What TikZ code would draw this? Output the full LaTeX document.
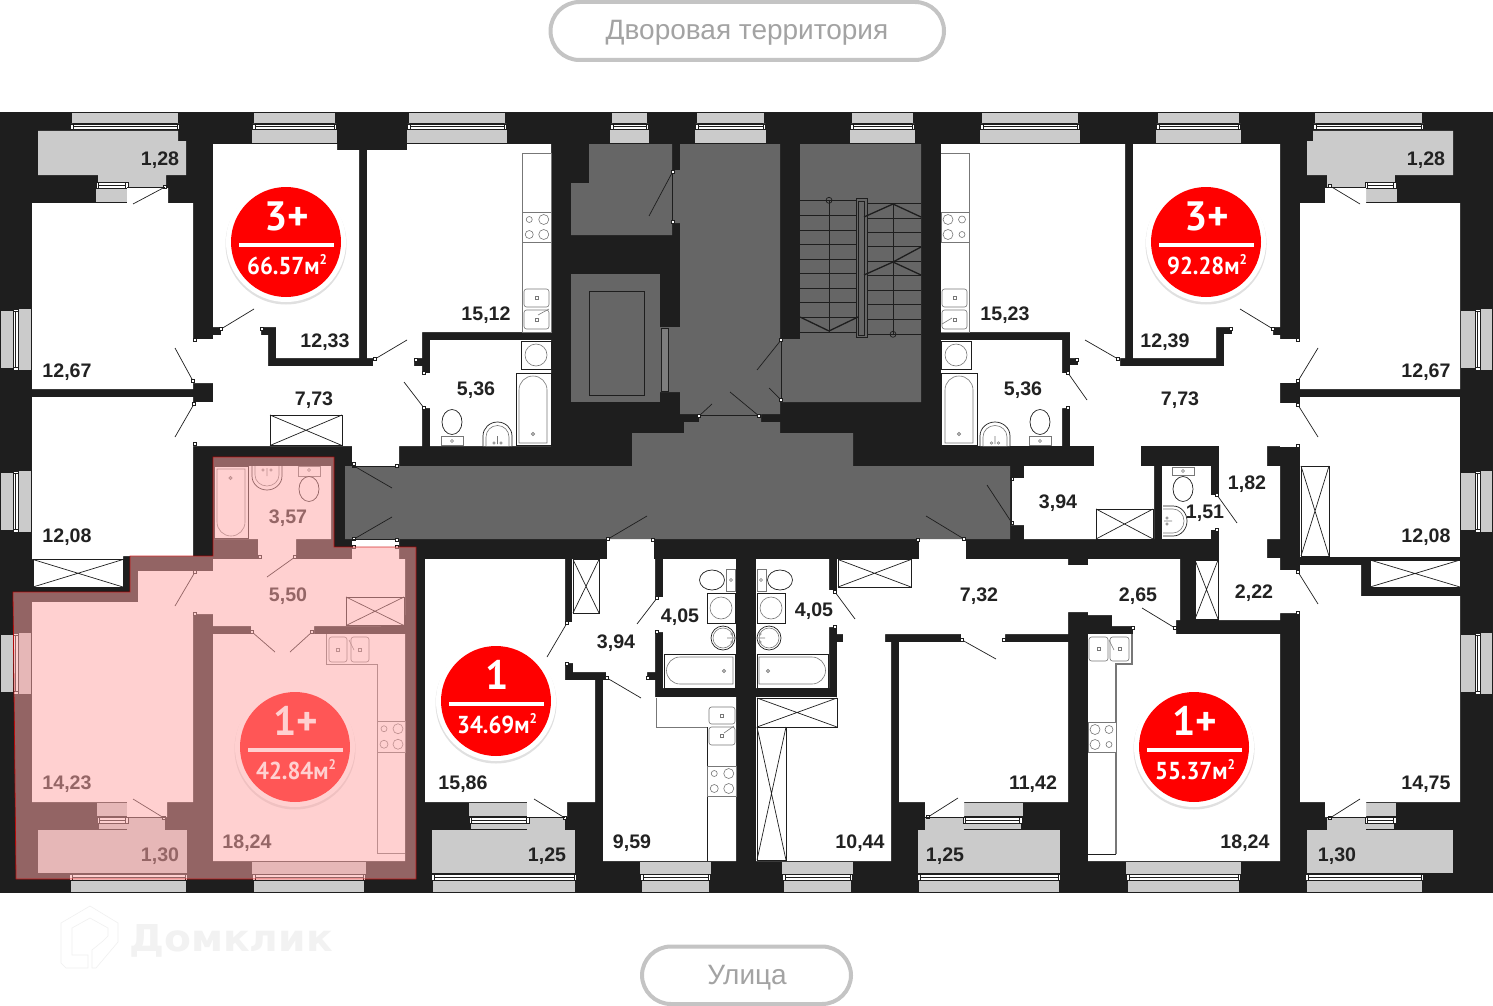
\documentclass[tikz,border=0pt]{standalone}
\usepackage{fontspec}
\setmainfont{Liberation Sans}
\newfontfamily\badgefont{PT Sans}
\newfontfamily\wmfont{DejaVu Sans}
\definecolor{wallc}{HTML}{1E1E1E}
\definecolor{corec}{HTML}{666666}
\definecolor{balc}{HTML}{CBCBCB}
\definecolor{lblc}{HTML}{222222}
\definecolor{fixc}{HTML}{777777}
\definecolor{pillc}{HTML}{C4C4C4}
\definecolor{pilltxt}{HTML}{A3A3A3}
\definecolor{ovc}{RGB}{255,165,165}
\definecolor{redc}{HTML}{FF0000}
\tikzset{
  leaf/.style={draw=wallc,line width=.7pt},
  thinl/.style={draw=wallc,line width=.7pt},
  fixt/.style={draw=fixc,line width=.6pt,fill=white},
  fixd/.style={draw=wallc,line width=.7pt,fill=white},
  room/.style={fill=white},
  core/.style={fill=corec},
  gr/.style={fill=balc},
  area/.style={font=\fontsize{19.6}{20}\selectfont\bfseries,text=lblc,inner sep=0pt,yshift=-1.8pt},
  pillbox/.style={draw=pillc,line width=4pt,fill=white,rounded corners=29pt},
  pilltext/.style={text=pilltxt,font=\fontsize{28}{29}\selectfont,inner sep=0pt,yshift=-2.2pt},
  bigb/.style={text=white,font=\badgefont\bfseries\fontsize{41}{42}\selectfont,inner sep=0pt},
  smallb/.style={text=white,font=\badgefont\bfseries\fontsize{24.5}{25}\selectfont,inner sep=0pt},
}
% top window: outer grey and glazing
\newcommand{\wtop}[2]{%
  \fill[gr] (#1,113) rectangle (#2,123);
  \draw[fill=white,draw=wallc,line width=.7pt] (#1,124) rectangle (#2,129.5);
  \draw[wallc,line width=.7pt] (#1,126.5) -- (#2,126.5);
  \draw[fill=white,draw=wallc,line width=.6pt] (#1-1.5,124) rectangle (#1+1,129.5) (#2-1,124) rectangle (#2+1.5,129.5);}
\newcommand{\wbot}[2]{%
  \fill[gr] (#1,881) rectangle (#2,892);
  \draw[fill=white,draw=wallc,line width=.7pt] (#1,874.5) rectangle (#2,880);
  \draw[wallc,line width=.7pt] (#1,877) -- (#2,877);
  \draw[fill=white,draw=wallc,line width=.6pt] (#1-1.5,874.5) rectangle (#1+1,880) (#2-1,874.5) rectangle (#2+1.5,880);}
% horizontal small window #1..#2 centred vertically on #3
\newcommand{\whz}[3]{%
  \draw[fill=white,draw=wallc,line width=.7pt] (#1,#3-3) rectangle (#2,#3+3);
  \draw[wallc,line width=.7pt] (#1,#3) -- (#2,#3);
  \draw[fill=white,draw=wallc,line width=.6pt] (#1-1,#3-3) rectangle (#1+1.5,#3+3) (#2-1.5,#3-3) rectangle (#2+1,#3+3);}
% vertical window: grey x #1..#2, glass #2..#3, grey #3..#4, y #5..#6
\newcommand{\wvt}[6]{%
  \fill[gr] (#1,#5+2) rectangle (#2,#6-2);
  \fill[gr] (#3,#5) rectangle (#4,#6);
  \draw[fill=white,draw=wallc,line width=.7pt] (#2,#5+1) rectangle (#3,#6-1);
  \draw[wallc,line width=.7pt] ({(#2+#3)/2},#5+1) -- ({(#2+#3)/2},#6-1);
  \draw[fill=white,draw=wallc,line width=.6pt] (#2,#5) rectangle (#3,#5+2.5) (#2,#6-2.5) rectangle (#3,#6);}
\newcommand{\xbx}[4]{%
  \draw[thinl,fill=white] (#1,#2) rectangle (#3,#4);
  \draw[thinl] (#1,#2) -- (#3,#4) (#1,#4) -- (#3,#2);}
\newcommand{\jmb}[2]{\draw[fill=white,draw=wallc,line width=.5pt] (#1-1.3,#2-1.3) rectangle (#1+1.3,#2+1.3);}
\newcommand{\dleaf}[4]{\draw[leaf] (#1,#2) -- (#3,#4); \jmb{#1}{#2}}
\newcommand{\stv}[8]{%
  \draw[fixt] (#1,#2) rectangle (#3,#4);
  \draw[fixt] ({#1+(#3-#1)*.25},{#2+(#4-#2)*.25}) circle (#5);
  \draw[fixt] ({#1+(#3-#1)*.75},{#2+(#4-#2)*.25}) circle (#6);
  \draw[fixt] ({#1+(#3-#1)*.25},{#2+(#4-#2)*.75}) circle (#7);
  \draw[fixt] ({#1+(#3-#1)*.75},{#2+(#4-#2)*.75}) circle (#8);}
\newcommand{\snk}[4]{%
  \draw[fixt,rounded corners=2.5pt] (#1,#2) rectangle (#3,#4);
  \draw[fixt] ({(#1+#3)/2-1.5},{(#2+#4)/2-1.5}) rectangle ({(#1+#3)/2+1.5},{(#2+#4)/2+1.5});}
\newcommand{\bdr}[2]{\draw[fixt] (#1,#2) circle (1.6);\fill[fixc] (#1,#2) circle (.7);}
% badge
\newcommand{\bdg}[5]{%
  \fill[black,opacity=.12] (#2,#3+2) circle (60.5);
  \fill[white] (#2,#3) circle (60);
  \fill[redc] (#2,#3) circle (55);
  \fill[white] (#2-47.5,#3+0.5) rectangle (#2+47.5,#3+4.5);
  \node[bigb] (#1t) at (#2+1,#3-26) {#4};
  \node[smallb,xscale=.93] (#1b) at (#2+1,#3+23) {#5м\raisebox{.42em}{\fontsize{14}{14}\selectfont 2}};}
\begin{document}
\begin{tikzpicture}[x=1pt,y=-1pt]
\useasboundingbox (0,0) rectangle (1493,1006);
\fill[white] (0,0) rectangle (1493,1006);
% pills
\draw[pillbox] (550.5,2) rectangle (944,60);
\node[pilltext] (yard) at (747,31) {Дворовая территория};
\draw[pillbox] (642,946.5) rectangle (851,1004);
\node[pilltext] (street) at (747,975) {Улица};
% watermark
\begin{scope}[draw=black!6,fill=black!3,line width=.6pt]
\draw (90,906) -- (118,923) -- (118,942) -- (96,968) -- (92,968) -- (92,950) -- (103,941) -- (108,936) -- (108,928) -- (90,918) -- (72,928) -- (72,955) -- (88,955) -- (88,968) -- (66,968) -- (61,963) -- (61,923) -- cycle;
\end{scope}
\node[inner sep=0pt,text=black!5,font=\wmfont\bfseries\fontsize{37}{38}\selectfont,xscale=1.06] (wm) at (231,941) {Домклик};
% building mass
\fill[wallc] (0,112) rectangle (1493,893);
% ---- top windows
\wtop{72}{178}\wtop{254}{335}\wtop{409}{505}\wtop{612}{647}\wtop{697}{764}\wtop{852}{913}\wtop{982}{1078}\wtop{1158}{1239}\wtop{1315}{1422}
\fill[gr] (252,130) rectangle (337,143);
\fill[gr] (407,130) rectangle (507,143);
\fill[gr] (610,130) rectangle (649,143);
\fill[gr] (695,130) rectangle (766,143);
\fill[gr] (850,130) rectangle (915,143);
\fill[gr] (980,130) rectangle (1080,143);
\fill[gr] (1156,130) rectangle (1241,143);
% ---- bottom windows
\wbot{71}{186}\wbot{254}{364}\wbot{433}{575}\wbot{642}{709}\wbot{784}{851}\wbot{919}{1059}\wbot{1128}{1239}\wbot{1307}{1422}
\fill[gr] (252,862) rectangle (366,874);
\fill[gr] (640,862) rectangle (711,874);
\fill[gr] (782,862) rectangle (853,874);
\fill[gr] (1126,862) rectangle (1241,874);
% ---- side windows
\wvt{1}{13}{18}{31}{309}{370}\wvt{1}{13}{18}{31}{471}{532}\wvt{1}{13}{18}{31}{633}{694}
\wvt{1461}{1475}{1480}{1492}{309}{370}\wvt{1461}{1475}{1480}{1492}{471}{532}\wvt{1461}{1475}{1480}{1492}{633}{694}
% ---- balconies
\fill[gr] (38,131) -- (178,131) -- (178,141) -- (186,141) -- (186,175) -- (166,175) -- (166,187) -- (127,187) -- (127,175) -- (38,175) -- cycle;
\fill[gr] (1313,131) -- (1453,131) -- (1453,175) -- (1366,175) -- (1366,187) -- (1327,187) -- (1327,175) -- (1307,175) -- (1307,141) -- (1313,141) -- cycle;
\fill[gr] (38,830) rectangle (187,873);
\fill[gr] (127,817) rectangle (165,830);
\fill[gr] (432,830) rectangle (575,873);
\fill[gr] (527,817) rectangle (565,830);
\fill[gr] (918,830) rectangle (1060,873);
\fill[gr] (925,817) rectangle (964,830);
\fill[gr] (1307,830) rectangle (1453,873);
\fill[gr] (1327,817) rectangle (1366,830);
% small balcony windows
\fill[gr] (98,175) rectangle (127,182); \whz{97}{127}{185.5} \fill[gr] (96,189) rectangle (127,202);
\fill[gr] (1366,175) rectangle (1395,182); \whz{1366}{1395}{185.5} \fill[gr] (1366,189) rectangle (1397,202);
\fill[gr] (97,803) rectangle (127,816); \whz{98}{127}{820} \fill[gr] (99,823.5) rectangle (127,829);
\fill[gr] (469,803) rectangle (527,816); \whz{470}{528}{820} \fill[gr] (471,823.5) rectangle (527,829);
\fill[gr] (964,803) rectangle (1023,816); \whz{964}{1021}{820} \fill[gr] (964,823.5) rectangle (1021,829);
\fill[gr] (1366,803) rectangle (1396,816); \whz{1366}{1395}{820} \fill[gr] (1366,823.5) rectangle (1394,829);
% ---- rooms, left upper
\fill[room] (32,203) -- (127,203) -- (127,188) -- (168,188) -- (168,203) -- (193,203) -- (193,389) -- (32,389) -- cycle;
\fill[room] (32,397) -- (193,397) -- (193,556) -- (123,556) -- (123,559) -- (32,559) -- cycle;
\fill[room] (213,144) -- (337,144) -- (337,150) -- (359,150) -- (359,358) -- (276,358) -- (276,327) -- (261,327) -- (261,335) -- (268,335) -- (268,366) -- (373,366) -- (373,358) -- (367,358) -- (367,150) -- (407,150) -- (407,144) -- (551,144) -- (551,332) -- (422,332) -- (422,358) -- (414,358) -- (414,366) -- (422,366) -- (422,373) -- (430,373) -- (430,340) -- (551,340) -- (551,446) -- (430,446) -- (430,408) -- (422,408) -- (422,446) -- (399,446) -- (399,466) -- (352,466) -- (352,446) -- (193,446) -- (193,402) -- (213,402) -- (213,383) -- (193,383) -- (193,339) -- (213,339) -- (213,335) -- (221,335) -- (221,327) -- (213,327) -- cycle;
% rooms, right upper
\fill[room] (1280,144) -- (1133,144) -- (1133,358) -- (1216,358) -- (1216,327) -- (1232,327) -- (1232,334) -- (1224,334) -- (1224,366) -- (1120,366) -- (1120,358) -- (1125,358) -- (1125,144) -- (941,144) -- (941,332) -- (1070,332) -- (1070,358) -- (1078,358) -- (1078,365) -- (1070,365) -- (1070,373) -- (1062,373) -- (1062,340) -- (941,340) -- (941,446) -- (1062,446) -- (1062,408) -- (1070,408) -- (1070,446) -- (1280,446) -- (1280,335) -- (1273,335) -- (1273,327) -- (1280,327) -- cycle;
\fill[room] (1224,339) rectangle (1280,446);
\fill[room] (1280,339) rectangle (1300,383);
\fill[room] (1280,403) rectangle (1300,447);
\fill[room] (1300,203) -- (1325,203) -- (1325,188) -- (1366,188) -- (1366,203) -- (1460,203) -- (1460,389) -- (1300,389) -- cycle;
\fill[room] (1300,397) rectangle (1460,557);
\fill[room] (1094,446) rectangle (1141,467);
\fill[room] (1024,466) -- (1154,466) -- (1154,539) -- (1024,539) -- (1024,525) -- (1011,525) -- (1011,478) -- (1024,478) -- cycle;
\fill[room] (1162,466) rectangle (1211,539);
\fill[room] (1211,495) rectangle (1219.5,530);
% wall chunks that the big right polygon covers
\fill[wallc] (1141,446) rectangle (1219,466);
\fill[wallc] (1267,447) rectangle (1280,466);
\fill[wallc] (941,446) rectangle (1094,466);
% 1.82 / 2.22 hall
\fill[room] (1219,446) -- (1267,446) -- (1267,466) -- (1280,466) -- (1280,539) -- (1267,539) -- (1267,558) -- (1280,558) -- (1280,570) -- (1300,570) -- (1300,613) -- (1280,613) -- (1280,620) -- (1219,620) -- cycle;
\fill[room] (1300,565) -- (1361,565) -- (1361,596) -- (1460,596) -- (1460,802) -- (1366,802) -- (1366,817) -- (1325,817) -- (1325,802) -- (1300,802) -- cycle;
% 7.32 hall, rooms 18.24 right, 11.42, 10.44, bath
\fill[room] (837,559) -- (1068,559) -- (1068,565) -- (1088,565) -- (1088,559) -- (1180,559) -- (1180,620) -- (1176,620) -- (1176,634) -- (1280,634) -- (1280,861) -- (1088,861) -- (1088,634) -- (1133,634) -- (1133,626) -- (1112,626) -- (1112,615) -- (1088,615) -- (1088,612) -- (1068,612) -- (1068,634) -- (1005,634) -- (1005,642) -- (1068,642) -- (1068,802) -- (964,802) -- (964,817) -- (925,817) -- (925,802) -- (899,802) -- (899,642) -- (961,642) -- (961,634) -- (885,634) -- (885,642) -- (891,642) -- (891,861) -- (756,861) -- (756,697) -- (837,697) -- (837,642) -- (843,642) -- (843,634) -- (837,634) -- (837,627) -- (829,627) -- (829,688) -- (756,688) -- (756,559) -- (829,559) -- (829,590) -- (837,590) -- cycle;
\fill[room] (919,539) rectangle (966,560);
% 15.86, 3.94, bath, 9.59
\fill[room] (425,559) -- (565,559) -- (565,622) -- (572,622) -- (572,559) -- (655,559) -- (655,597) -- (663,597) -- (663,559) -- (736,559) -- (736,688) -- (663,688) -- (663,632) -- (655,632) -- (655,672) -- (647,672) -- (647,680) -- (655,680) -- (655,697) -- (736,697) -- (736,861) -- (603,861) -- (603,680) -- (606,680) -- (606,672) -- (573,672) -- (573,663) -- (565,663) -- (565,680) -- (595,680) -- (595,802) -- (567,802) -- (567,817) -- (527,817) -- (527,802) -- (425,802) -- cycle;
\fill[room] (607,539) rectangle (654,560);
% the highlighted flat
\fill[room] (32,602) -- (138,602) -- (138,571) -- (213,571) -- (213,559) -- (258,559) -- (258,539) -- (214,539) -- (214,466) -- (331,466) -- (331,539) -- (296,539) -- (296,559) -- (352,559) -- (352,539) -- (399,539) -- (399,559) -- (405,559) -- (405,615) -- (381,615) -- (381,626) -- (314,626) -- (314,634) -- (405,634) -- (405,861) -- (213,861) -- (213,634) -- (251,634) -- (251,626) -- (213,626) -- (213,614) -- (193,614) -- (193,802) -- (167,802) -- (167,817) -- (127,817) -- (127,802) -- (32,802) -- cycle;
% ---- common core
\fill[core] (589,144) -- (672,144) -- (672,170) -- (680,170) -- (680,144) -- (780,144) -- (780,414) -- (761,414) -- (761,422) -- (780,422) -- (780,433) -- (853,433) -- (853,466) -- (1010,466) -- (1010,539) -- (345,539) -- (345,466) -- (632,466) -- (632,433) -- (684,433) -- (684,422) -- (699,422) -- (699,414) -- (680,414) -- (680,392) -- (660,392) -- (660,327) -- (680,327) -- (680,223) -- (672,223) -- (672,235) -- (571,235) -- (571,183) -- (589,183) -- cycle;
\fill[core] (571,274) rectangle (660,402);
\draw[thinl] (589,291) rectangle (644,395);
\draw[thinl,fill=corec!85!white] (661,328) rectangle (668,391);
\fill[core] (800,144) -- (921,144) -- (921,402) -- (781,402) -- (781,339) -- (800,339) -- cycle;
\fill[core] (780,339) rectangle (782,402);
% core doors
\draw[thinl] (672.5,172) -- (672.5,222);
\dleaf{672.5}{172}{649}{216}\jmb{672.5}{222}
\draw[thinl] (699,415.5) -- (759,415.5);
\dleaf{699}{416}{712}{404}\dleaf{759}{416}{730}{392}
\draw[thinl] (781,340) -- (781,400);
\dleaf{781}{340}{757}{370}\dleaf{781}{400}{769}{388}
\dleaf{608}{539}{647}{516}\dleaf{964}{539}{926}{516}\dleaf{1012}{523}{987}{485}\jmb{1012}{479}
\dleaf{354}{466}{392}{488}\dleaf{354}{539}{392}{517}
\draw[thinl] (352,466) -- (399,466) (352,539) -- (399,539);
\jmb{397}{466}\jmb{397}{540}\jmb{653}{540}\jmb{918}{540}
\draw[thinl] (1011,478) -- (1011,525);
% stairs
\foreach \yy in {200.3,215.7,230.7,244.7,259.3,273.3,288.3,302.3,317.3,332.3}{\draw[thinl] (800,\yy) -- (856,\yy);}
\foreach \yy in {203.3,218,232.3,246.7,261.7,275.7,290,304,319.3,334.3}{\draw[thinl] (867,\yy) -- (921,\yy);}
\draw[thinl] (829,200) -- (829,332) (893,203) -- (893,334);
\draw[thinl] (829,200.3) circle (3) (893,334.3) circle (3);
\draw[thinl] (856,198) rectangle (867,337) (858.5,201) rectangle (864.5,335);
\draw[draw=wallc,line width=1.3pt] (800,317) -- (829,331) -- (858,317) (864,217) -- (893,204) -- (921,217) (864,275) -- (893,262) -- (921,275) (893,262) -- (921,247);
% ---- door leaves in flats
\dleaf{165}{187}{133}{204}\dleaf{193}{381}{175}{348}\dleaf{194}{404}{175}{437}
\dleaf{221}{329}{254}{309}\dleaf{375}{359}{407}{340}\dleaf{424}{408}{404}{382}
\jmb{195}{340}\jmb{195}{444}\jmb{262}{329}\jmb{416}{360}\jmb{424}{373}\jmb{354}{464}
\dleaf{1330}{186}{1360}{204}\dleaf{1298}{381}{1318}{348}\dleaf{1298}{405}{1318}{437}
\dleaf{1273}{329}{1240}{309}\dleaf{1118}{359}{1085}{340}\dleaf{1068}{373}{1087}{400}
\jmb{1298}{340}\jmb{1068}{408}\jmb{1231}{329}\jmb{1077}{360}\jmb{1298}{446}
\dleaf{1217}{495}{1237}{523}\jmb{1217}{530}
\dleaf{1298}{572}{1318}{604}\jmb{1298}{613}
\dleaf{1175}{628}{1142}{608}\jmb{1133}{628}
\dleaf{962}{640}{996}{659}\jmb{1004}{640}
\dleaf{835}{592}{855}{619}\jmb{835}{627}
\dleaf{657}{598}{637}{624}\jmb{657}{632}\jmb{648}{678}
\dleaf{567}{623}{547}{657}\jmb{567}{664}
\dleaf{607}{678}{641}{698}
\dleaf{565}{818}{534}{799}\dleaf{928}{817}{958}{798}\dleaf{1330}{818}{1360}{799}
\dleaf{164}{818}{133}{799}
\draw[thinl] (127,817) -- (165,817) (527,817) -- (565,817) (925,817) -- (964,817) (1327,817) -- (1366,817) (127,187.5) -- (165,187.5) (1327,187.5) -- (1366,187.5);
\dleaf{295}{557}{267}{577}\jmb{260}{557}
\dleaf{195}{572}{175}{606}\jmb{195}{614}
\dleaf{252}{632}{275}{652}\dleaf{312}{632}{290}{652}
\jmb{354}{547}\jmb{397}{547}
% ---- wardrobes
\xbx{270}{415}{342}{445.5}\xbx{33}{559.5}{123}{587}\xbx{346}{597}{404}{625.5}
\xbx{573}{559.5}{599}{613}\xbx{838}{559.5}{911}{587}\xbx{757}{698}{837}{727}\xbx{757}{727}{786}{860}
\xbx{1096}{509}{1153}{539}\xbx{1301}{466}{1329}{556}\xbx{1370}{560}{1460}{587}\xbx{1195}{560}{1218}{619}
% ---- kitchens
% 15.12
\draw[fixt] (522,153) rectangle (551,332);
\stv{522}{212}{551}{242}{3}{5}{4}{5}
\snk{524}{289}{549}{307}\snk{524}{310}{549}{329}
\draw[fixt] (538,315) -- (549,309);
% 15.23
\draw[fixt,line width=1pt] (941,153) -- (969,153) -- (969,332) -- (941,332);
\stv{941}{212}{969}{242}{5}{3.5}{5}{3}
\snk{942}{289}{967}{307}\snk{942}{310}{967}{329}
\draw[fixt] (942,324) -- (952,318);
% 9.59
\draw[draw=fixc,line width=1pt] (656,697.5) -- (656,727) -- (707,727);
\draw[thinl] (707,727) -- (707,861);
\stv{707}{766}{736}{796}{3}{5}{4}{5}
\snk{709}{707}{735}{724}\snk{709}{727}{735}{745}
\draw[fixt] (724,733) -- (734,726);
% 18.24 left
\draw[fixt,fill=none] (326,634) -- (326,664) -- (377,664) -- (377,853) -- (405,853);
\stv{377}{721}{405}{752}{3}{5}{4}{5}
\snk{329}{637}{347}{662}\snk{351}{637}{369}{662}
\draw[fixt] (349,640) -- (354,650);
% 18.24 right
\draw[draw=fixc,line width=1.2pt] (1132,634) -- (1132,664) -- (1116,664) -- (1116,854);
\draw[thinl] (1116,854) -- (1088,854);
\stv{1088}{722}{1116}{752}{5}{4}{5}{3}
\snk{1089}{637}{1108}{661}\snk{1110}{637}{1129}{661}
\draw[fixt] (1109,640) -- (1114,650);
% ---- bathrooms
% 5.36 left
\draw[fixd] (521,341) rectangle (551,369); \draw[fixt] (536,355) circle (11);
\draw[fixd] (516,373) rectangle (551,445);
\draw[fixt] (519,443) -- (519,390) arc[start angle=180,end angle=360,x radius=14,y radius=14] -- (547,443) -- cycle; \bdr{533}{434}
\draw[fixd] (452,422) ellipse (10 and 12.5); \draw[fixt] (441,436) rectangle (463,445.5); \draw[fixt] (452,441) circle (1.5);
\draw[fixd] (483,446) -- (483,436) arc[start angle=180,end angle=360,x radius=14.5,y radius=14] -- (512,446); \draw[fixt] (486,446) -- (486,437) arc[start angle=180,end angle=360,x radius=11.5,y radius=11.5] -- (509,446);
\draw[fixt] (497.5,436) -- (497.5,444) (494,443) circle (1.3) (501,443) circle (1.3);
% 5.36 right
\draw[fixd] (941,341) rectangle (971,369); \draw[fixt] (956,355) circle (11);
\draw[fixd] (941,373) rectangle (977,445);
\draw[fixt] (945,443) -- (945,390) arc[start angle=180,end angle=360,x radius=14,y radius=14] -- (973,443) -- cycle; \bdr{959}{434}
\draw[fixd] (1040,422) ellipse (10 and 12.5); \draw[fixt] (1029,436) rectangle (1051,445.5); \draw[fixt] (1040,441) circle (1.5);
\draw[fixd] (980,446) -- (980,436) arc[start angle=180,end angle=360,x radius=15,y radius=14] -- (1010,446); \draw[fixt] (983,446) -- (983,437) arc[start angle=180,end angle=360,x radius=12,y radius=11.5] -- (1007,446);
\draw[fixt] (995,436) -- (995,444) (991.5,443) circle (1.3) (998.5,443) circle (1.3);
% 3.57
\draw[fixd] (214,466) rectangle (248,538);
\draw[fixt] (217,469) -- (217,522) arc[start angle=180,end angle=0,x radius=14,y radius=14] -- (245,469) -- cycle; \bdr{230.5}{478}
\draw[fixd] (252,466) -- (252,476) arc[start angle=180,end angle=0,x radius=15,y radius=14] -- (282,466); \draw[fixt] (255,466) -- (255,475) arc[start angle=180,end angle=0,x radius=12,y radius=11] -- (279,466);
\draw[fixt] (267,468) -- (267,476) (263,470) circle (1.3) (271,470) circle (1.3);
\draw[fixt] (298,466) rectangle (320,476); \draw[fixt] (309,470) circle (1.5); \draw[fixd] (309,489) ellipse (10 and 12.5);
% 4.05 left
\draw[fixd] (712,580) ellipse (12.5 and 10); \draw[fixt] (726,569) rectangle (735,591); \draw[fixt] (731,580) circle (1.5);
\draw[fixd] (707,593) rectangle (735,623); \draw[fixt] (721,608) circle (11);
\draw[fixd] (723,638) circle (12); \draw[fixt] (723,638) circle (10);
\draw[fixt] (727,638) -- (735,638) (732,634) circle (1.3) (732,642) circle (1.3);
\draw[fixd] (664,654) rectangle (735,688);
\draw[fixt] (733,657) -- (680,657) arc[start angle=-90,end angle=-270,x radius=13.5,y radius=13.5] -- (733,684) -- cycle; \bdr{724}{671}
% 4.05 right
\draw[fixd] (780,580) ellipse (12.5 and 10); \draw[fixt] (757,569) rectangle (766,591); \draw[fixt] (761,580) circle (1.5);
\draw[fixd] (757,593) rectangle (785,623); \draw[fixt] (771,608) circle (11);
\draw[fixd] (769,638) circle (12); \draw[fixt] (769,638) circle (10);
\draw[fixt] (757,638) -- (765,638) (760,634) circle (1.3) (760,642) circle (1.3);
\fill[wallc] (736,559) rectangle (756,697);
\draw[fixd] (757,654) rectangle (828,688);
\draw[fixt] (759,657) -- (812,657) arc[start angle=-90,end angle=90,x radius=13.5,y radius=13.5] -- (759,684) -- cycle; \bdr{768}{671}
% wc 1.51
\draw[fixt] (1172,467) rectangle (1194,475); \draw[fixt] (1183,471) circle (1.5); \draw[fixd] (1183,489) ellipse (10 and 12.5);
\draw[fixd] (1163,506) -- (1173,506) arc[start angle=-90,end angle=90,x radius=14,y radius=15] -- (1163,536);
\draw[fixt] (1163,509) -- (1173,509) arc[start angle=-90,end angle=90,x radius=11,y radius=12] -- (1163,533);
\draw[fixt] (1164,521) -- (1172,521) (1167,518) circle (1.2) (1167,524) circle (1.2);
% ---- area labels
\node[area] (a1)  at (160,158) {1,28};
\node[area] (a2)  at (486,313) {15,12};
\node[area] (a3)  at (325,340) {12,33};
\node[area] (a4)  at (67,370)  {12,67};
\node[area] (a5)  at (314,398) {7,73};
\node[area] (a6)  at (476,388) {5,36};
\node[area] (a7)  at (288,516) {3,57};
\node[area] (a8)  at (67,535)  {12,08};
\node[area] (a9)  at (288,594) {5,50};
\node[area] (a10) at (67,782)  {14,23};
\node[area] (a11) at (160,854) {1,30};
\node[area] (a12) at (247,841) {18,24};
\node[area] (a13) at (463,782) {15,86};
\node[area] (a14) at (547,854) {1,25};
\node[area] (a15) at (616,641) {3,94};
\node[area] (a16) at (680,615) {4,05};
\node[area] (a17) at (814,609) {4,05};
\node[area] (a18) at (632,841) {9,59};
\node[area] (a19) at (860,841) {10,44};
\node[area] (a20) at (945,854) {1,25};
\node[area] (a21) at (979,594) {7,32};
\node[area] (a22) at (1138,594) {2,65};
\node[area] (a23) at (1033,782) {11,42};
\node[area] (a24) at (1245,841) {18,24};
\node[area] (a25) at (1426,782) {14,75};
\node[area] (a26) at (1337,854) {1,30};
\node[area] (a27) at (1058,501) {3,94};
\node[area] (a28) at (1205,511) {1,51};
\node[area] (a29) at (1247,482) {1,82};
\node[area] (a30) at (1254,591) {2,22};
\node[area] (a31) at (1426,535) {12,08};
\node[area] (a32) at (1426,370) {12,67};
\node[area] (a33) at (1023,388) {5,36};
\node[area] (a34) at (1180,398) {7,73};
\node[area] (a35) at (1005,313) {15,23};
\node[area] (a36) at (1165,340) {12,39};
\node[area] (a37) at (1426,158) {1,28};
% ---- badges
\bdg{ba}{286}{242}{3+}{66.57}
\bdg{bb}{1206}{242}{3+}{92.28}
\bdg{bc}{496}{701}{1}{34.69}
\bdg{bd}{295}{747}{1+}{42.84}
\bdg{be}{1194}{747}{1+}{55.37}
% ---- highlighted flat overlay
\fill[ovc,opacity=.52] (13,592) -- (130,592) -- (130,556) -- (213,556) -- (213,457) -- (334,457) -- (334,547) -- (416,547) -- (416,879) -- (16,879) -- cycle;
\draw[draw=red!80!black,line width=.8pt,opacity=.8] (13,592) -- (130,592) -- (130,556) -- (213,556) -- (213,457) -- (334,457) -- (334,547) -- (416,547) -- (416,879) -- (16,879) -- cycle;
\end{tikzpicture}
\end{document}
